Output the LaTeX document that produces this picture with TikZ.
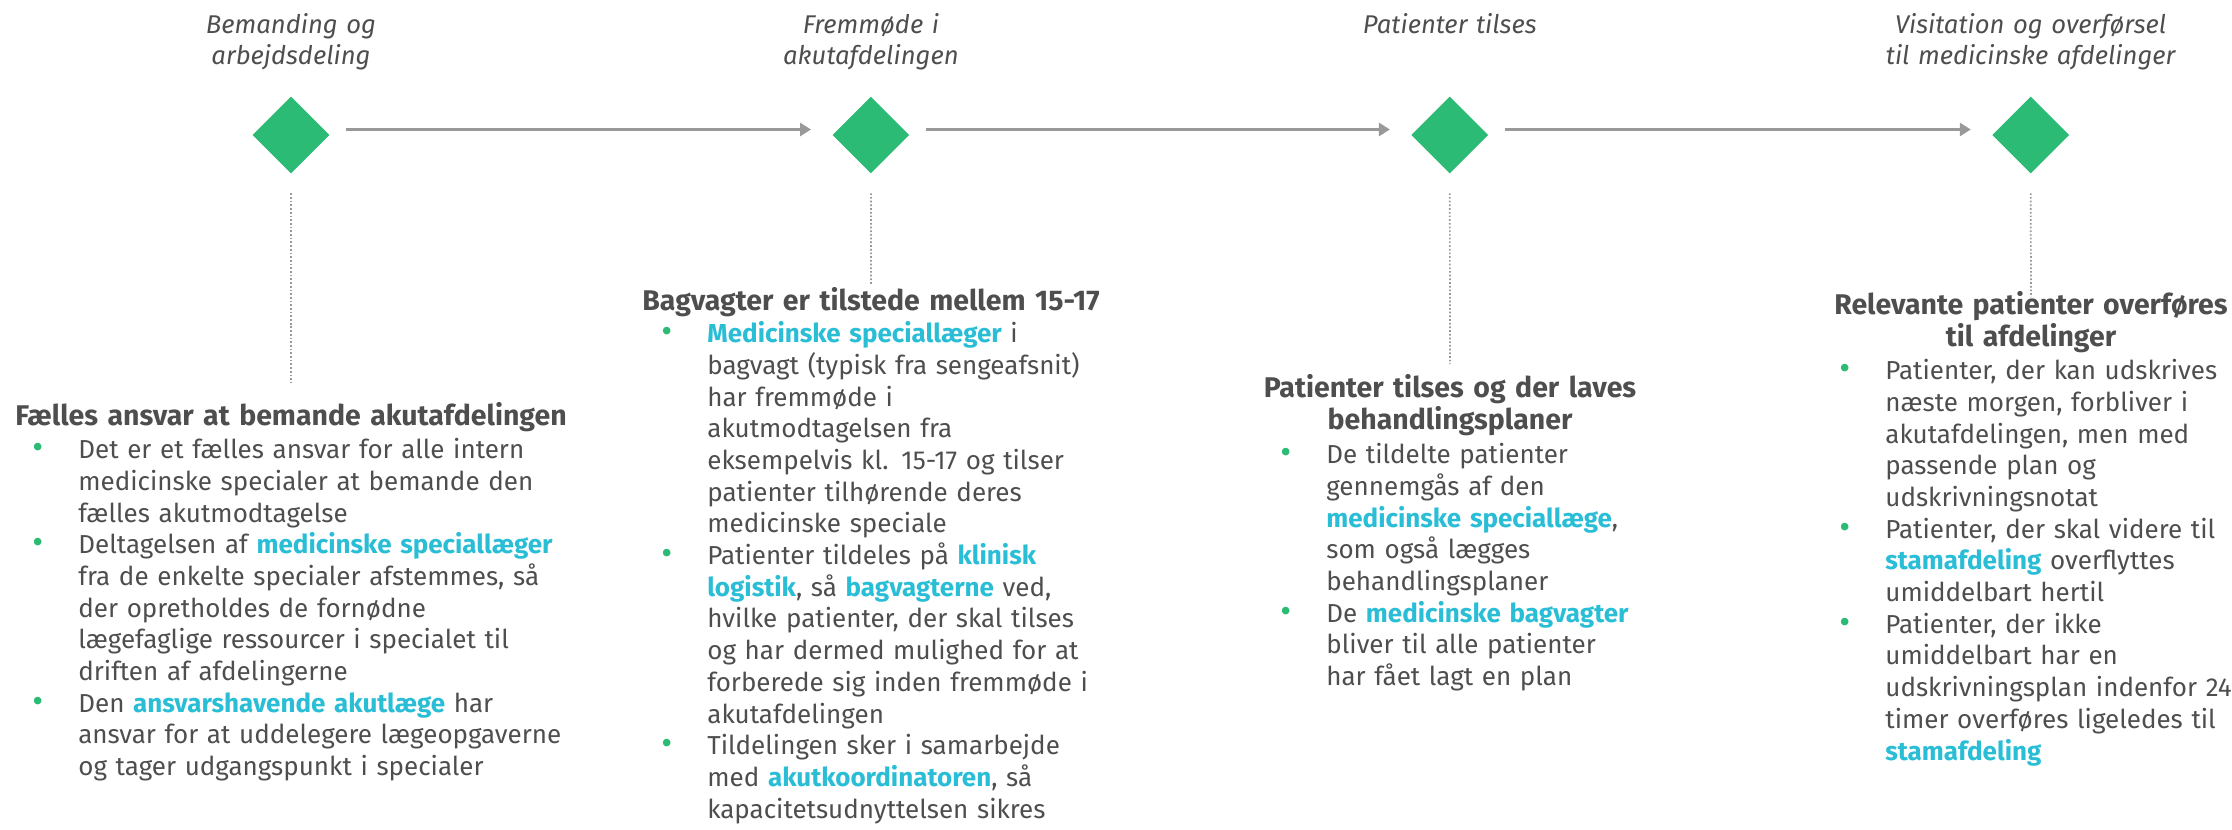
\documentclass[tikz,border=0pt]{standalone}
\usepackage{fontspec}
\setmainfont{Fira Sans}
\usepackage{xcolor}
\usetikzlibrary{shapes.geometric,     % ruder
           arrows.meta,               % pilespidser
           positioning,
           calc}
\definecolor{tekstgraa}{HTML}{4E4E4E}
\definecolor{fremhaev}{HTML}{29BDD6}
\definecolor{rudegroen}{HTML}{2BBB74}
\definecolor{pilgraa}{HTML}{999999}
\newlength{\pxl}\setlength{\pxl}{0.02cm}
\newcommand{\brodfont}{\fontsize{14.8}{18.04}\selectfont}
\newcommand{\titelfont}{\fontsize{14.6}{18.04}\selectfont}
\newcommand{\overfont}{\fontsize{16.2}{18.6}\selectfont}
\newcommand{\fremh}[1]{\textcolor{fremhaev}{\bfseries #1}}
\newenvironment{punkter}{\begin{list}{\kern-6\pxl\textcolor{rudegroen}{\fontsize{19}{18}\selectfont\textbullet}}{%
  \setlength{\leftmargin}{40\pxl}\setlength{\labelwidth}{40\pxl}\setlength{\labelsep}{0pt}%
  \setlength{\itemsep}{0pt}\setlength{\parsep}{0pt}\setlength{\topsep}{0pt}\setlength{\partopsep}{0pt}%
  \renewcommand{\makelabel}[1]{##1\hfil}}}{\end{list}}

\begin{document}
\begin{tikzpicture}[x=0.02cm, y=-0.02cm,
  rude/.style={diamond, fill=rudegroen, inner sep=0pt, minimum width=1.54cm, minimum height=1.54cm},
  pil/.style={draw=pilgraa, line width=0.06cm, -{Triangle[length=0.22cm, width=0.26cm]}, shorten <=0.32cm, shorten >=0.42cm},
  prik/.style={draw=pilgraa, line width=0.034cm, dash pattern=on 0.034cm off 0.04cm, shorten <=0.39cm},
  titel/.style={font=\titelfont\itshape, text=tekstgraa, text width=9cm, align=center, anchor=base, inner sep=0pt},
  overskrift/.style={font=\overfont\bfseries, text=tekstgraa, text width=13cm, align=center, anchor=base, inner sep=0pt},
  punktboks/.style={font=\brodfont, text=tekstgraa, text width=#1, align=left, anchor=base west, inner sep=0pt}]
\useasboundingbox (0,0) rectangle (2232,829);

% tidslinje
\node[rude](d1)at(291,135){};
\node[rude, xshift=11.6cm](d2)at(d1){};
\node[rude, xshift=11.58cm](d3)at(d2){};
\node[rude, xshift=11.62cm](d4)at(d3){};
\draw[pil]([yshift=0.11cm]d1.east)--([yshift=0.11cm]d2.west);
\draw[pil]([yshift=0.11cm]d2.east)--([yshift=0.11cm]d3.west);
\draw[pil]([yshift=0.11cm]d3.east)--([yshift=0.11cm]d4.west);

\node[titel, yshift=2.04cm](t1)at(d1){Bemanding og\\arbejdsdeling};
\node[titel, yshift=2.04cm](t2)at(d2){Fremmøde i\\akutafdelingen};
\node[titel, yshift=2.04cm](t3)at(d3){Patienter tilses};
\node[titel, yshift=2.04cm](t4)at(d4){Visitation og overførsel\\til medicinske afdelinger};

\coordinate(e1)at(291,383);
\coordinate(e2)at(871,285);
\coordinate(e3)at(1450,364);
\coordinate(e4)at(2031,297);
\draw[prik](d1.south)--(e1);
\draw[prik](d2.south)--(e2);
\draw[prik](d3.south)--(e3);
\draw[prik](d4.south)--(e4);

% blok 1
\node[overskrift](h1)at(291,425){Fælles ansvar at bemande akutafdelingen};
\node[punktboks=11cm](p1)at(38,427){\begin{punkter}
\item Det er et fælles ansvar for alle intern\\medicinske specialer at bemande den\\fælles akutmodtagelse
\item Deltagelsen af \fremh{medicinske speciallæger}\\fra de enkelte specialer afstemmes, så\\der opretholdes de fornødne\\lægefaglige ressourcer i specialet til\\driften af afdelingerne
\item Den \fremh{ansvarshavende akutlæge} har\\ansvar for at uddelegere lægeopgaverne\\og tager udgangspunkt i specialer
\end{punkter}};

% blok 2
\node[overskrift](h2)at(871,310){Bagvagter er tilstede mellem 15-17};
\node[punktboks=9cm](p2)at(667,311){\begin{punkter}
\item \fremh{Medicinske speciallæger} i\\bagvagt (typisk fra sengeafsnit)\\har fremmøde i\\akutmodtagelsen fra\\eksempelvis kl. 15-17 og tilser\\patienter tilhørende deres\\medicinske speciale
\item Patienter tildeles på \fremh{klinisk}\\\fremh{logistik}, så \fremh{bagvagterne} ved,\\hvilke patienter, der skal tilses\\og har dermed mulighed for at\\forberede sig inden fremmøde i\\akutafdelingen
\item Tildelingen sker i samarbejde\\med \fremh{akutkoordinatoren}, så\\kapacitetsudnyttelsen sikres
\end{punkter}};

% blok 3
\node[overskrift](h3)at(1450,397){Patienter tilses og der laves\\behandlingsplaner};
\node[punktboks=8cm](p3)at(1286,432){\begin{punkter}
\item De tildelte patienter\\gennemgås af den\\\fremh{medicinske speciallæge},\\som også lægges\\behandlingsplaner
\item De \fremh{medicinske bagvagter}\\bliver til alle patienter\\har fået lagt en plan
\end{punkter}};

% blok 4
\node[overskrift](h4)at(2031,314){Relevante patienter overføres\\til afdelinger};
\node[punktboks=8.4cm](p4)at(1845,348){\begin{punkter}
\item Patienter, der kan udskrives\\næste morgen, forbliver i\\akutafdelingen, men med\\passende plan og\\udskrivningsnotat
\item Patienter, der skal videre til\\\fremh{stamafdeling} overflyttes\\umiddelbart hertil
\item Patienter, der ikke\\umiddelbart har en\\udskrivningsplan indenfor 24\\timer overføres ligeledes til\\\fremh{stamafdeling}
\end{punkter}};
\end{tikzpicture}
\end{document}
